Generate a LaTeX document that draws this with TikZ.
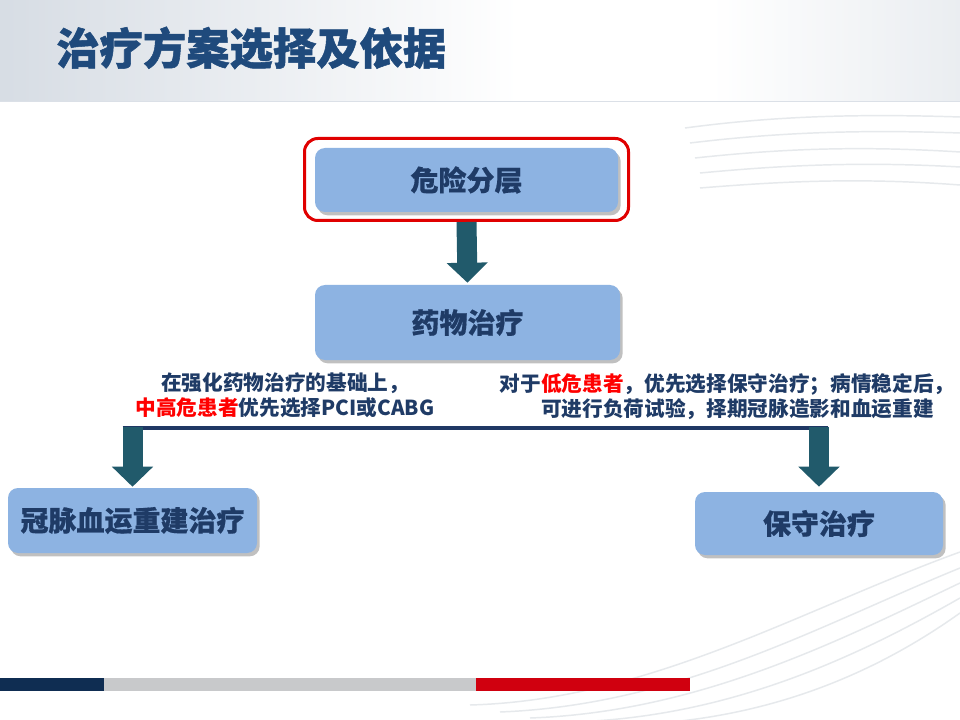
\documentclass[tikz,border=0pt]{standalone}
\usepackage{fontspec}
\setmainfont{Noto Sans CJK SC}
\newfontfamily\heavyfont[FakeBold=1.2]{Noto Sans CJK SC}
\newfontfamily\boxfont[FakeBold=0.5]{Noto Sans CJK SC}
\usetikzlibrary{arrows.meta,shadows}
\definecolor{navytxt}{HTML}{1F3B66}
\definecolor{titleblue}{HTML}{1F4A7C}
\definecolor{boxfill}{HTML}{8DB3E2}
\definecolor{arrowteal}{HTML}{215A6B}
\definecolor{linenavy}{HTML}{1F3864}
\definecolor{barnavy}{HTML}{0F2D52}
\definecolor{bargray}{HTML}{C8C9CB}
\definecolor{barred}{HTML}{D0000F}
\definecolor{hired}{HTML}{FF0000}
\definecolor{hlred}{HTML}{E00000}
\definecolor{swoosh}{HTML}{E6E9EC}
\definecolor{hdrL}{HTML}{C3CCD7}
\definecolor{hdrR}{HTML}{CAD2DB}
\pgfdeclarehorizontalshading{hdrshade}{100bp}{color(0bp)=(hdrL); color(20bp)=(hdrL!80!white); color(52bp)=(white); color(62bp)=(white); color(85bp)=(hdrR!70!white); color(100bp)=(hdrR)}
\begin{document}
\begin{tikzpicture}[x=0.75pt,y=-0.75pt,
  stepbox/.style={fill=boxfill, rounded corners=7.5pt, text=navytxt,
    font=\fontsize{21}{25}\selectfont\boxfont\bfseries, inner sep=0pt,
    drop shadow={shadow xshift=2pt,shadow yshift=-2.5pt,opacity=0.35,fill=black!70}},
  note/.style={text=navytxt, font=\fontsize{15.5}{18.75}\selectfont\bfseries, align=center, inner sep=0pt},
  blockarrow/.style={draw=arrowteal, line width=15pt, -{Triangle[width=30pt,length=15pt]}},
  hline/.style={draw=linenavy, line width=3pt},
  swooshline/.style={draw=swoosh, line width=1.1pt},
  hlbox/.style={draw=hlred, line width=2.25pt, rounded corners=10pt, inner sep=0pt}
]
\useasboundingbox (0,0) rectangle (960,720);
\fill[white] (0,0) rectangle (960,720);
% header
\shade[shading=hdrshade] (0,0) rectangle (960,102);
\draw[hdrL!60!white, line width=0.75pt] (0,102) -- (960,102);
\node[anchor=west, text=titleblue, font=\fontsize{32.5}{36}\selectfont\heavyfont\bfseries, inner sep=0pt] (title) at (56,48) {治疗方案选择及依据};
% swooshes
\draw[swooshline] (685,128) .. controls (760,118) and (840,113) .. (960,117);
\draw[swooshline] (690,143) .. controls (765,134) and (845,129) .. (960,133);
\draw[swooshline] (695,158) .. controls (770,150) and (850,145) .. (960,152);
\draw[swooshline] (700,173) .. controls (775,166) and (855,161) .. (960,167);
\draw[swooshline] (700,188) .. controls (775,182) and (855,177) .. (960,185);
\draw[swooshline] (470,705) .. controls (650,700) and (800,610) .. (960,552);
\draw[swooshline] (500,712) .. controls (680,705) and (820,625) .. (960,568);
\draw[swooshline] (530,718) .. controls (700,712) and (840,640) .. (960,583);
\draw[swooshline] (570,722) .. controls (730,718) and (860,655) .. (960,598);
\draw[swooshline] (620,725) .. controls (770,722) and (880,670) .. (960,613);
% footer bars
\fill[barnavy] (0,678) rectangle (104,691);
\fill[bargray] (104,678) rectangle (476,691);
\fill[barred] (476,678) rectangle (690,691);
% boxes
\node[stepbox, minimum width=227.25pt, minimum height=48pt] (risk) at (466.5,180) {危险分层};
\node[hlbox, minimum width=243pt, minimum height=61.5pt] (hl) at (466.5,179.5) {};
\node[stepbox, minimum width=228.75pt, minimum height=56.25pt] (drug) at (467.5,322.5) {药物治疗};
\node[stepbox, minimum width=186.75pt, minimum height=48.75pt] (revasc) at (132.5,520.5) {冠脉血运重建治疗};
\node[stepbox, minimum width=186pt, minimum height=47.25pt] (cons) at (819,523.5) {保守治疗};
% notes
\node[note] (noteL) at (285,395) {在强化药物治疗的基础上，\\{\color{hired}中高危患者}优先选择PCI或CABG};
\node[note] (noteR) at (727,397) {对于{\color{hired}低危患者}，优先选择保守治疗；病情稳定后，\\\hspace*{1em}可进行负荷试验，择期冠脉造影和血运重建};
% connectors
\coordinate (bar) at (0,428);
\draw[blockarrow] (hl.south) -- ([yshift=1.5pt]drug.north);
\draw[hline] ([xshift=-7.5pt]revasc.north |- bar) -- ([xshift=7pt]cons.north |- bar);
\draw[blockarrow] ([yshift=1pt]revasc.north |- bar) -- ([yshift=0.75pt]revasc.north);
\draw[blockarrow] ([yshift=1pt]cons.north |- bar) -- ([yshift=3.75pt]cons.north);
\end{tikzpicture}
\end{document}
